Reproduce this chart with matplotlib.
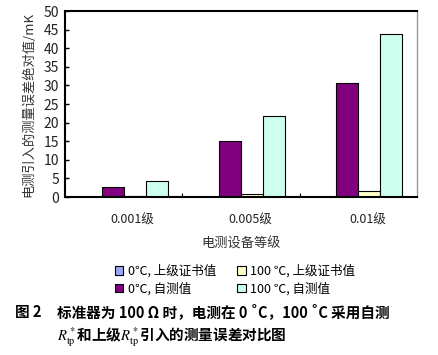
#!/usr/bin/env python3
"""Bar chart: measurement error from self-measured vs. certificate R*tp."""

import matplotlib
matplotlib.use("Agg")
import matplotlib.pyplot as plt
import matplotlib.transforms as mtransforms
import numpy as np

plt.rcParams["font.family"] = ["Noto Sans CJK SC", "DejaVu Sans"]
plt.rcParams["mathtext.fontset"] = "stix"

CATEGORIES = ["0.001级", "0.005级", "0.01级"]
SERIES = ["0℃, 上级证书值", "0℃, 自测值", "100 ℃, 上级证书值", "100 ℃, 自测值"]
VALUES = [
    [0.0, 0.0, 0.0],
    [2.8, 15.1, 30.7],
    [0.2, 0.8, 1.6],
    [4.2, 21.9, 43.8],
]
COLORS = ["#99A8F5", "#800080", "#FFFFCC", "#CCFFEE"]
YTICKS = np.arange(0, 51, 5)


def main() -> None:
    fig = plt.figure(figsize=(4.39, 3.55), dpi=100)
    ax = fig.add_axes([0.148, 0.445, 0.802, 0.524])

    width = 0.1875
    x = np.arange(len(CATEGORIES), dtype=float)
    for i, (label, vals, color) in enumerate(zip(SERIES, VALUES, COLORS)):
        ax.bar(
            x + (i - 1.5) * width,
            vals,
            width=width,
            color=color,
            edgecolor="black",
            linewidth=0.8,
            label=label,
        )

    ax.set_xlim(-0.5, len(CATEGORIES) - 0.5)
    ax.set_ylim(0, 50)
    ax.set_yticks(YTICKS)
    ax.set_xticks(x, CATEGORIES)
    ax.set_xticks(np.arange(0.5, len(CATEGORIES) - 0.5), minor=True)
    ax.tick_params(axis="x", which="major", length=0, pad=12, labelsize=9, colors="#222222")
    ax.tick_params(axis="x", which="minor", direction="in", length=3, width=0.8)
    ax.tick_params(axis="y", direction="in", length=3, width=1.0, pad=4, labelsize=10,
                   labelcolor="#222222")
    # category labels sit a little right of the group centres in the original
    shift = mtransforms.ScaledTranslation(0.09, 0, fig.dpi_scale_trans)
    for lbl in ax.get_xticklabels():
        lbl.set_transform(lbl.get_transform() + shift)

    for side in ("top", "left", "bottom"):
        ax.spines[side].set_linewidth(1.5)
        ax.spines[side].set_color("black")
    ax.spines["right"].set_color("#999999")
    ax.spines["right"].set_linewidth(1.0)

    ax.set_ylabel("电测引入的测量误差绝对值/mK", fontsize=9.5, color="#333333", labelpad=6)
    ax.set_xlabel("电测设备等级", fontsize=9.5, color="#333333", labelpad=8)

    fig.legend(
        loc="upper left",
        bbox_to_anchor=(0.25, 0.27),
        ncol=2,
        frameon=False,
        fontsize=9,
        handlelength=0.7,
        handleheight=0.7,
        handletextpad=0.4,
        columnspacing=1.6,
        labelspacing=0.35,
        borderaxespad=0,
    )

    fig.text(0.035, 0.12, "图 2", fontsize=10.5, fontweight="bold", va="center")
    fig.text(0.13, 0.12, "标准器为 100 Ω 时，电测在 0 ˚C，100 ˚C 采用自测",
             fontsize=10.5, fontweight="bold", va="center")
    fig.text(0.13, 0.05, r"$R^*_{\rm tp}$和上级$R^*_{\rm tp}$引入的测量误差对比图",
             fontsize=10.5, fontweight="bold", va="center")

    fig.savefig("out.png", dpi=100)
    plt.close(fig)


if __name__ == "__main__":
    main()
